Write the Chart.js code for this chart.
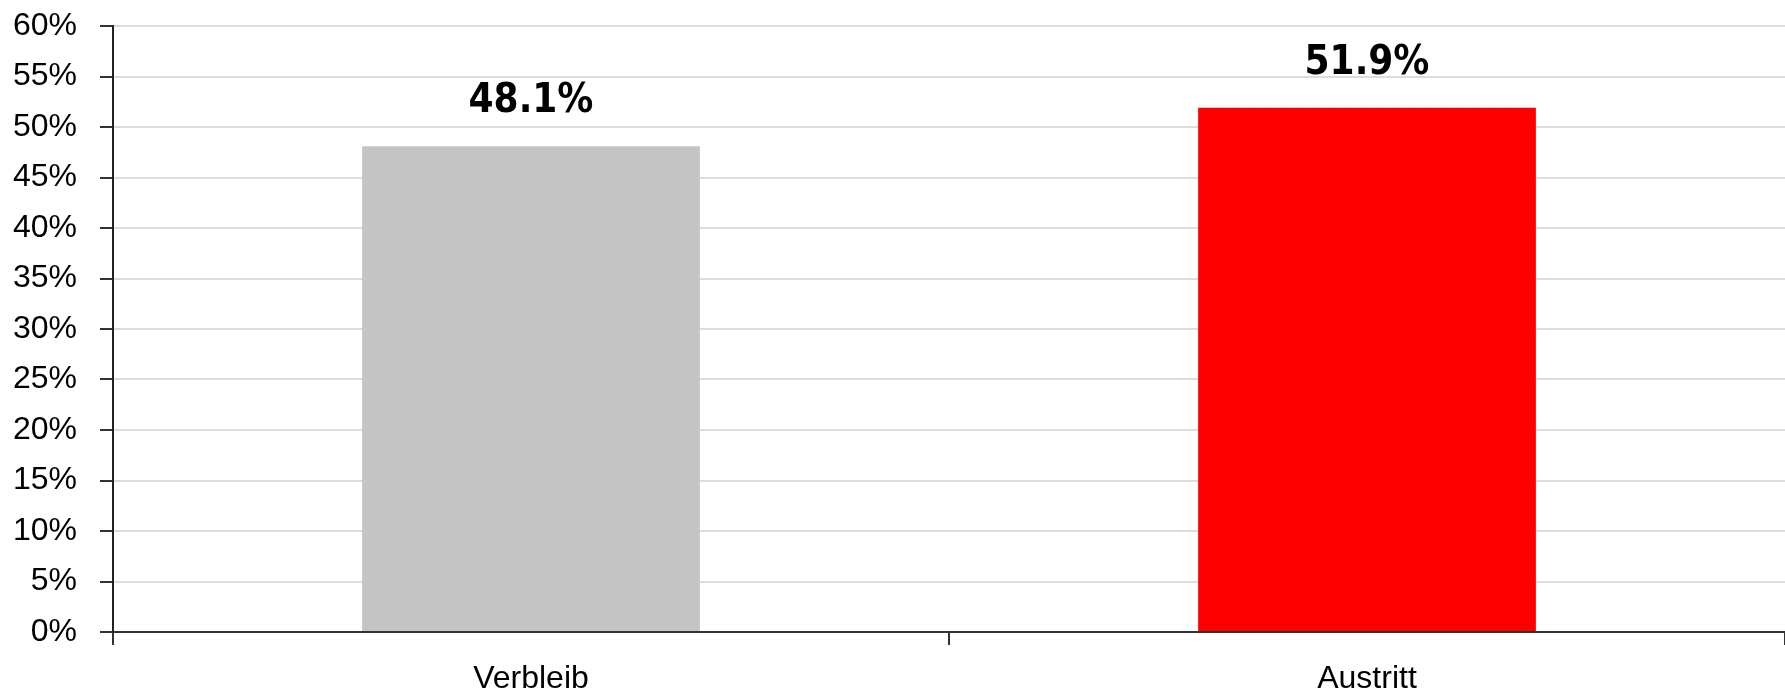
<!DOCTYPE html>
<html>
<head>
<meta charset="utf-8">
<script src="https://cdn.jsdelivr.net/npm/chart.js@4/dist/chart.umd.min.js"></script>
<style>
  html, body { margin: 0; padding: 0; background: #fff; }
  #wrap { width: 1785px; height: 695px; position: relative; }
</style>
</head>
<body>
<div id="wrap"><canvas id="c"></canvas></div>
<script>
const categories = ['Verbleib', 'Austritt'];
const values = [48.1, 51.9];
const barColors = ['#c4c4c4', '#ff0000'];
const yTickMin = 0;
const yTickMax = 60;
const yTickStep = 5;

const tickFont = { family: "'Liberation Sans', Arial, sans-serif", size: 32 };
const labelFont = "bold 40px 'DejaVu Sans Condensed', 'DejaVu Sans', sans-serif";

const valueLabels = {
  id: 'valueLabels',
  afterDatasetsDraw(chart) {
    const ctx = chart.ctx;
    const meta = chart.getDatasetMeta(0);
    ctx.save();
    ctx.font = labelFont;
    ctx.fillStyle = '#000';
    ctx.textAlign = 'center';
    ctx.textBaseline = 'alphabetic';
    meta.data.forEach((bar, i) => {
      ctx.fillText(values[i].toFixed(1) + '%', bar.x, bar.y - 34);
    });
    ctx.restore();
  }
};

new Chart(document.getElementById('c'), {
  type: 'bar',
  data: {
    labels: categories,
    datasets: [{
      data: values,
      backgroundColor: barColors,
      borderWidth: 0,
      categoryPercentage: 1,
      barPercentage: 0.404
    }]
  },
  options: {
    responsive: true,
    maintainAspectRatio: false,
    animation: false,
    layout: { padding: { top: 26, right: 0, left: 0, bottom: 0 } },
    plugins: { legend: { display: false }, tooltip: { enabled: false } },
    scales: {
      x: {
        grid: { offset: true, drawOnChartArea: false, tickLength: 13, tickColor: '#333', lineWidth: 2 },
        border: { display: true, color: '#333', width: 2 },
        ticks: { color: '#000', font: tickFont, padding: 15 },
        afterFit(scale) { scale.height = 63; scale.paddingLeft = 0; scale.paddingRight = 0; }
      },
      y: {
        min: yTickMin,
        max: yTickMax,
        grid: { color: '#dcdcdc', lineWidth: 2, tickLength: 13, tickColor: '#333' },
        border: { display: true, color: '#222', width: 2 },
        ticks: { stepSize: yTickStep, color: '#000', font: tickFont, padding: 23,
                 callback: v => v + '%' },
        afterFit(scale) { scale.width = 113; scale.paddingTop = 0; scale.paddingBottom = 0; }
      }
    }
  },
  plugins: [valueLabels]
});
</script>
</body>
</html>
